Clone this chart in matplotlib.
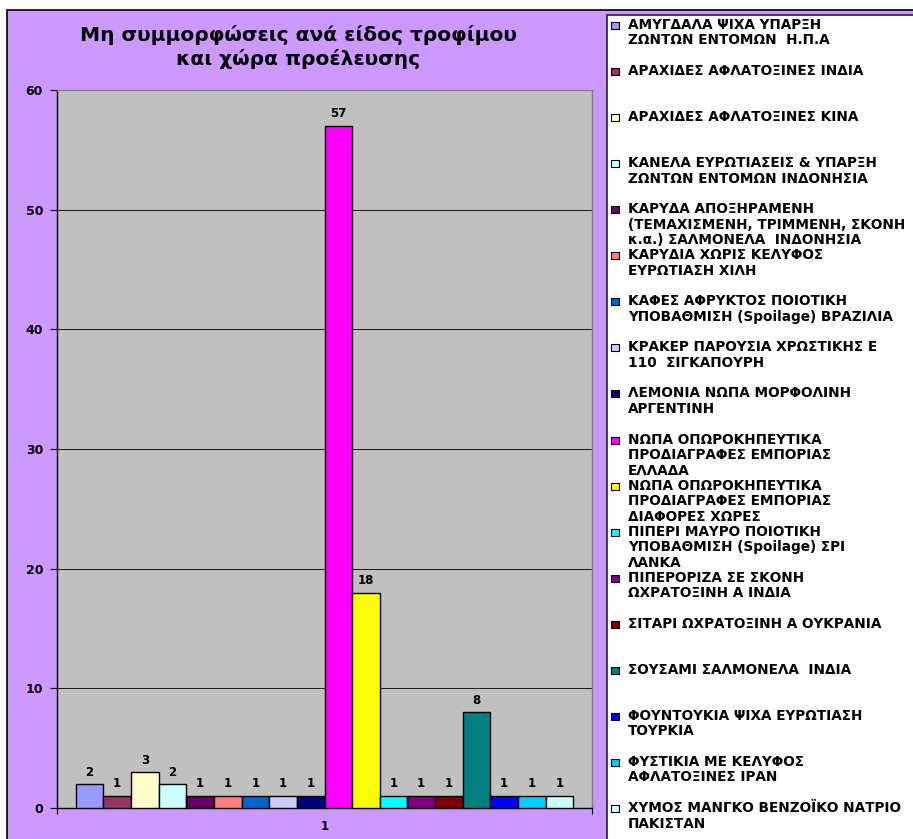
#!/usr/bin/env python3
"""
Non-compliance bar chart (Excel style) with manual legend panel
"""

import matplotlib
matplotlib.use('Agg')
import matplotlib.pyplot as plt
from matplotlib.patches import Rectangle

# Data
labels = [
    'ΑΜΥΓΔΑΛΑ ΨΙΧΑ ΥΠΑΡΞΗ\nΖΩΝΤΩΝ ΕΝΤΟΜΩΝ  Η.Π.Α',
    'ΑΡΑΧΙΔΕΣ ΑΦΛΑΤΟΞΙΝΕΣ ΙΝΔΙΑ',
    'ΑΡΑΧΙΔΕΣ ΑΦΛΑΤΟΞΙΝΕΣ ΚΙΝΑ',
    'ΚΑΝΕΛΑ ΕΥΡΩΤΙΑΣΕΙΣ & ΥΠΑΡΞΗ\nΖΩΝΤΩΝ ΕΝΤΟΜΩΝ ΙΝΔΟΝΗΣΙΑ',
    'ΚΑΡΥΔΑ ΑΠΟΞΗΡΑΜΕΝΗ\n(ΤΕΜΑΧΙΣΜΕΝΗ, ΤΡΙΜΜΕΝΗ, ΣΚΟΝΗ\nκ.α.) ΣΑΛΜΟΝΕΛΑ  ΙΝΔΟΝΗΣΙΑ',
    'ΚΑΡΥΔΙΑ ΧΩΡΙΣ ΚΕΛΥΦΟΣ\nΕΥΡΩΤΙΑΣΗ ΧΙΛΗ',
    'ΚΑΦΕΣ ΑΦΡΥΚΤΟΣ ΠΟΙΟΤΙΚΗ\nΥΠΟΒΑΘΜΙΣΗ (Spoilage) ΒΡΑΖΙΛΙΑ',
    'ΚΡΑΚΕΡ ΠΑΡΟΥΣΙΑ ΧΡΩΣΤΙΚΗΣ Ε\n110  ΣΙΓΚΑΠΟΥΡΗ',
    'ΛΕΜΟΝΙΑ ΝΩΠΑ ΜΟΡΦΟΛΙΝΗ\nΑΡΓΕΝΤΙΝΗ',
    'ΝΩΠΑ ΟΠΩΡΟΚΗΠΕΥΤΙΚΑ\nΠΡΟΔΙΑΓΡΑΦΕΣ ΕΜΠΟΡΙΑΣ\nΕΛΛΑΔΑ',
    'ΝΩΠΑ ΟΠΩΡΟΚΗΠΕΥΤΙΚΑ\nΠΡΟΔΙΑΓΡΑΦΕΣ ΕΜΠΟΡΙΑΣ\nΔΙΑΦΟΡΕΣ ΧΩΡΕΣ',
    'ΠΙΠΕΡΙ ΜΑΥΡΟ ΠΟΙΟΤΙΚΗ\nΥΠΟΒΑΘΜΙΣΗ (Spoilage) ΣΡΙ\nΛΑΝΚΑ',
    'ΠΙΠΕΡΟΡΙΖΑ ΣΕ ΣΚΟΝΗ\nΩΧΡΑΤΟΞΙΝΗ Α ΙΝΔΙΑ',
    'ΣΙΤΑΡΙ ΩΧΡΑΤΟΞΙΝΗ Α ΟΥΚΡΑΝΙΑ',
    'ΣΟΥΣΑΜΙ ΣΑΛΜΟΝΕΛΑ  ΙΝΔΙΑ',
    'ΦΟΥΝΤΟΥΚΙΑ ΨΙΧΑ ΕΥΡΩΤΙΑΣΗ\nΤΟΥΡΚΙΑ',
    'ΦΥΣΤΙΚΙΑ ΜΕ ΚΕΛΥΦΟΣ\nΑΦΛΑΤΟΞΙΝΕΣ ΙΡΑΝ',
    'ΧΥΜΟΣ ΜΑΝΓΚΟ ΒΕΝΖΟΪΚΟ ΝΑΤΡΙΟ\nΠΑΚΙΣΤΑΝ',
]
values = [2, 1, 3, 2, 1, 1, 1, 1, 1, 57, 18, 1, 1, 1, 8, 1, 1, 1]
colors = ['#9999FF', '#993366', '#FFFFCC', '#CCFFFF', '#660066', '#FF8080',
          '#0066CC', '#CCCCFF', '#000080', '#FF00FF', '#FFFF00', '#00FFFF',
          '#800080', '#800000', '#008080', '#0000FF', '#00CCFF', '#CCFFFF']
category = '1'
y_ticks = [0, 10, 20, 30, 40, 50, 60]

W, H = 913, 839
fig = plt.figure(figsize=(W / 100, H / 100), dpi=100, facecolor='white')

# chart area (purple) and legend panel (white), kept behind the axes
fig.patches.append(Rectangle((7 / W, -0.05), 1.0, (H - 10) / H + 0.05,
                             transform=fig.transFigure, facecolor='#CC99FF',
                             edgecolor='black', linewidth=1.2, zorder=-3))
fig.patches.append(Rectangle((607 / W, -0.05), 1.0, (H - 15) / H + 0.05,
                             transform=fig.transFigure, facecolor='white',
                             edgecolor='#222222', linewidth=1.2, zorder=-2))

ax = fig.add_axes([57 / W, (H - 808) / H, (592 - 57) / W, (808 - 90) / H])
ax.set_facecolor('#C0C0C0')

n = len(values)
group = 0.93
w = group / n
xs = [-group / 2 + w * (i + 0.5) for i in range(n)]
bars = ax.bar(xs, values, width=w, color=colors, edgecolor='black',
              linewidth=1.0, zorder=3)
ax.bar_label(bars, padding=4, fontsize=8.5, fontweight='bold',
             family='DejaVu Sans')

ax.set_xlim(-0.5, 0.5)
ax.set_ylim(0, 60)
ax.set_yticks(y_ticks)
ax.set_yticklabels([str(t) for t in y_ticks], fontsize=9, fontweight='bold')
ax.yaxis.grid(True, color='black', linewidth=0.6, zorder=1)
ax.set_axisbelow(True)
ax.set_xticks([-0.5, 0.5])
ax.set_xticklabels(['', ''])
ax.set_xticks([0], minor=True)
ax.set_xticklabels([category], minor=True, fontsize=8.5, fontweight='bold')
ax.tick_params(axis='x', which='minor', length=0, pad=9)
ax.tick_params(axis='x', which='major', direction='inout', length=8)
ax.tick_params(axis='y', direction='out', length=5, pad=5)
for side in ['left', 'bottom']:
    ax.spines[side].set_color('black')
    ax.spines[side].set_linewidth(1.0)
for side in ['top', 'right']:
    ax.spines[side].set_color('#808080')
    ax.spines[side].set_linewidth(1.0)

# title
fig.text(298 / W, 1 - 47 / H, 'Μη συμμορφώσεις ανά είδος τροφίμου\nκαι χώρα προέλευσης',
         ha='center', va='center', fontsize=14.5, fontweight='bold',
         family='DejaVu Sans', linespacing=1.2)

# legend
first_y = 25
step = (808 - 25) / 17
line_h = 15.5
for i, (lab, col) in enumerate(zip(labels, colors)):
    y0 = first_y + step * i
    fig.patches.append(Rectangle((611 / W, 1 - (y0 + 4) / H), 8 / W, 7 / H,
                                 transform=fig.transFigure, facecolor=col,
                                 edgecolor='black', linewidth=0.8, zorder=2))
    for j, line in enumerate(lab.split('\n')):
        fig.text(628 / W, 1 - (y0 + line_h * j) / H, line, ha='left',
                 va='center', fontsize=9.8, fontweight='bold',
                 family='DejaVu Sans', zorder=3)

plt.savefig('out.png', dpi=100)
